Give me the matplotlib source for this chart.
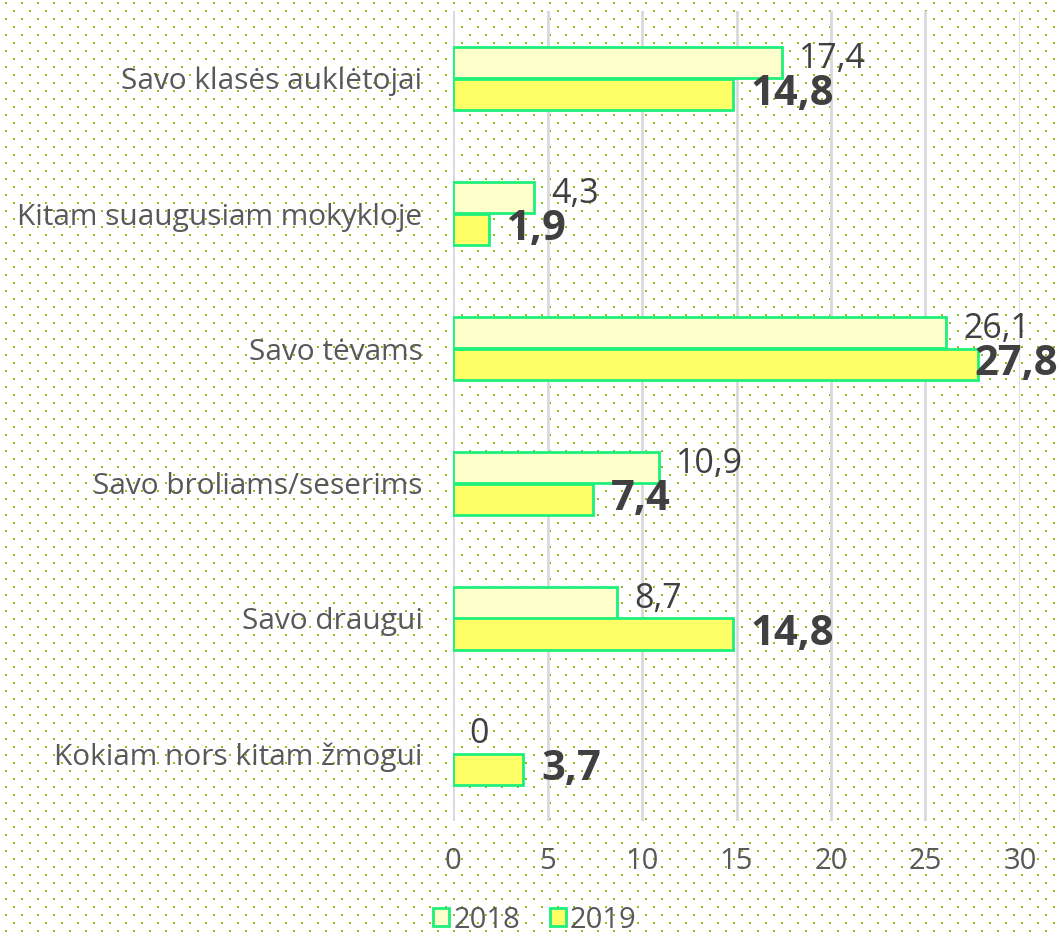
import numpy as np
import matplotlib
matplotlib.use("Agg")
import matplotlib.pyplot as plt
from matplotlib.patches import Patch

categories = ["Savo klasės auklėtojai", "Kitam suaugusiam mokykloje", "Savo tėvams",
              "Savo broliams/seserims", "Savo draugui", "Kokiam nors kitam žmogui"]
vals_2018 = [17.4, 4.3, 26.1, 10.9, 8.7, 0]
vals_2019 = [14.8, 1.9, 27.8, 7.4, 14.8, 3.7]
series_names = ["2018", "2019"]
xticks = [0, 5, 10, 15, 20, 25, 30]

W, H = 1061, 936
plt.rcParams['font.family'] = ['Open Sans', 'DejaVu Sans']

fig = plt.figure(figsize=(W / 100, H / 100), dpi=100, facecolor="white")

# dotted background pattern
bg = np.ones((H, W, 4))
dot = np.array([0.55, 0.75, 0.10, 1.0])
for r, yy in enumerate(range(5, H, 8)):
    off = 5 if r % 2 == 0 else 13
    for x in range(off, W, 16):
        bg[H - 1 - yy:H + 1 - yy, x:x + 2] = dot
fig.figimage(bg, xo=0, yo=0, zorder=-10)

ax = fig.add_axes([453 / W, 1 - 821 / H, (1020 - 453) / W, (821 - 11) / H])
ax.set_zorder(2)
ax.set_facecolor("none")

edge = "#1ef07a"
c18 = "#ffffcc"
c19 = "#ffff66"
y = np.arange(len(categories))
h = 0.235
lw18 = [2 if v > 0 else 0 for v in vals_2018]
lw19 = [2 if v > 0 else 0 for v in vals_2019]
ax.barh(y - h / 2, vals_2018, height=h, color=c18, edgecolor=edge, linewidth=lw18, zorder=3)
ax.barh(y + h / 2, vals_2019, height=h, color=c19, edgecolor=edge, linewidth=lw19, zorder=3)

ax.set_xlim(0, 30)
ax.set_ylim(len(categories) - 0.5, -0.5)
ax.set_xticks(xticks)
ax.set_xticklabels([str(t) for t in xticks])
ax.set_yticks(y)
ax.set_yticklabels(categories)
ax.tick_params(axis="x", length=0, pad=19, labelsize=21, labelcolor="#595959")
ax.tick_params(axis="y", length=0, pad=22, labelsize=21.5, labelcolor="#595959")
ax.grid(axis="x", color="#d9d9d9", linewidth=2, zorder=1)
ax.set_axisbelow(True)
for s in ax.spines.values():
    s.set_visible(False)

def fmt(v):
    return ("%g" % v).replace(".", ",")

texts = []
for i, v in enumerate(vals_2018):
    t = ax.annotate(fmt(v), (v, i - h / 2 - 0.03), xytext=(12, 0), textcoords="offset points",
                    ha="left", va="center", fontsize=24.5, color="#404040", zorder=5)
for i, v in enumerate(vals_2019):
    t = ax.annotate(fmt(v), (v, i + h / 2 + 0.0), xytext=(13, 0), textcoords="offset points",
                    ha="left", va="center", fontsize=30, fontweight="bold", color="#404040", zorder=5,
                    annotation_clip=False)
    texts.append(t)

fig.canvas.draw()
r = fig.canvas.get_renderer()
for t in texts:
    bb = t.get_window_extent(r)
    if bb.x1 > W - 3:
        t.set_position((t.get_position()[0] - (bb.x1 - (W - 3)) * 72 / 100, 0))

handles = [Patch(facecolor=c18, edgecolor=edge, linewidth=2),
           Patch(facecolor=c19, edgecolor=edge, linewidth=2)]
leg = fig.legend(handles, series_names, loc="center", bbox_to_anchor=(535 / W, 1 - 920 / H),
                 ncol=2, frameon=False, fontsize=21, handlelength=0.55, handleheight=0.55,
                 handletextpad=0.15, columnspacing=1.0, borderaxespad=0)
for tx in leg.get_texts():
    tx.set_color("#595959")

fig.savefig("out.png", dpi=100, facecolor="white")
